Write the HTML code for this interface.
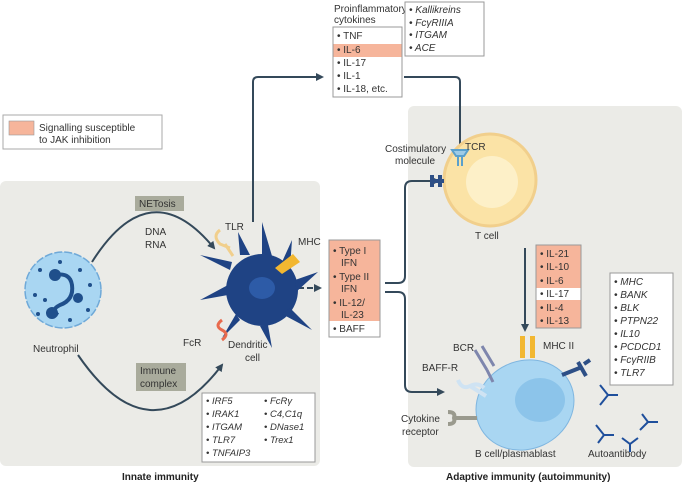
<!DOCTYPE html>
<html><head><meta charset="utf-8"><style>
body{margin:0;background:#fff}
svg{display:block;font-family:"Liberation Sans",sans-serif}
</style></head><body>
<svg width="682" height="487" viewBox="0 0 682 487" xmlns="http://www.w3.org/2000/svg">
<defs>
<marker id="ah" markerWidth="8" markerHeight="8" refX="6" refY="4" orient="auto" markerUnits="userSpaceOnUse"><path d="M0,0 L8,4 L0,8 Z" fill="#34495a"/></marker>
</defs>
<rect x="0" y="181" width="320" height="285" rx="6" fill="#ebebe7"/>
<rect x="408" y="106" width="274" height="361" rx="6" fill="#ebebe7"/>

<rect x="3" y="115" width="159" height="34" fill="#fff" stroke="#aaa"/>
<rect x="9" y="121" width="25" height="14" fill="#f6b59b" stroke="#999" stroke-width="0.6"/>
<text x="39" y="131" font-size="10" fill="#333">Signalling susceptible</text>
<text x="39" y="143" font-size="10" fill="#333">to JAK inhibition</text>

<text x="334" y="12" font-size="10" fill="#333">Proinflammatory</text>
<text x="334" y="23" font-size="10" fill="#333">cytokines</text>
<rect x="333" y="27" width="69" height="70" fill="#fff" stroke="#999"/>
<rect x="333.5" y="44" width="68" height="13" fill="#f6b59b"/>
<g font-size="10" fill="#333">
<text x="337" y="39">• TNF</text><text x="337" y="53">• IL-6</text><text x="337" y="66">• IL-17</text><text x="337" y="79">• IL-1</text><text x="337" y="92">• IL-18, etc.</text>
</g>
<rect x="405" y="2" width="79" height="54" fill="#fff" stroke="#999"/>
<g font-size="10" fill="#333" font-style="italic">
<text x="409" y="13">• Kallikreins</text><text x="409" y="26">• FcγRIIIA</text><text x="409" y="38">• ITGAM</text><text x="409" y="51">• ACE</text>
</g>

<g fill="none" stroke="#34495a" stroke-width="2">
<path d="M253,222 V82 Q253,77 258,77 H322" marker-end="url(#ah)"/>
<path d="M460,150 V82 Q460,77 455,77 H404"/>
<path d="M298,288 H320" stroke-dasharray="6,3" marker-end="url(#ah)"/>
<path d="M385,283 H398 Q405,283 405,276 V188 Q405,181 412,181 H438" marker-end="url(#ah)"/>
<path d="M385,292 H398 Q405,292 405,299 V385 Q405,392 412,392 H443" marker-end="url(#ah)"/>
<path d="M525,248 V330" marker-end="url(#ah)"/>
<path d="M92,262 Q150,170 214,248" marker-end="url(#ah)"/>
<path d="M78,355 Q150,460 222,365" marker-end="url(#ah)"/>
</g>

<circle cx="63" cy="290" r="38" fill="#a9d6f2" stroke="#6fa9d8" stroke-width="1.5" stroke-dasharray="8,2"/>
<path d="M55,275 Q70,272 72,285 Q74,300 60,305 Q50,310 58,315" fill="none" stroke="#1f4f8b" stroke-width="4"/>
<circle cx="55" cy="275" r="6" fill="#1f4f8b"/><circle cx="78" cy="298" r="5" fill="#1f4f8b"/><circle cx="52" cy="313" r="6" fill="#1f4f8b"/>
<g fill="#1f4f8b"><circle cx="40" cy="270" r="2"/><circle cx="80" cy="270" r="2"/><circle cx="35" cy="295" r="2"/><circle cx="90" cy="285" r="2"/><circle cx="45" cy="300" r="2"/><circle cx="70" cy="320" r="2"/><circle cx="38" cy="314" r="2"/><circle cx="88" cy="310" r="2"/><circle cx="60" cy="262" r="2"/></g>
<text x="33" y="352" font-size="10" fill="#333">Neutrophil</text>
<rect x="135" y="196" width="49" height="15" fill="#a9ab9c"/>
<text x="139" y="207" font-size="10" fill="#333">NETosis</text>
<text x="145" y="235" font-size="10" fill="#333">DNA</text>
<text x="145" y="248" font-size="10" fill="#333">RNA</text>
<rect x="136" y="363" width="50" height="28" fill="#a9ab9c"/>
<text x="140" y="374" font-size="10" fill="#333">Immune</text>
<text x="140" y="387" font-size="10" fill="#333">complex</text>

<g fill="#1f4384">
<circle cx="262" cy="290" r="36"/>
<path d="M230,270 L200,255 L232,262Z M240,255 L238,232 L250,255Z M262,254 L262,222 L272,256Z M282,262 L292,240 L290,268Z M295,280 L318,272 L296,292Z M290,308 L312,330 L282,314Z M268,325 L272,348 L260,326Z M240,320 L222,338 L236,314Z M228,295 L200,300 L228,285Z"/>
</g>
<ellipse cx="262" cy="288" rx="13" ry="11" fill="#2d5ba7"/>
<path d="M220,230 q-8,6 0,14 l10,4 M225,244 l8,12" fill="none" stroke="#f1cf8c" stroke-width="3"/>
<path d="M275,268 l18,-14 l7,8 l-18,12z" fill="#f2b731"/>
<path d="M222,340 q8,-6 0,-10 q-8,-4 0,-10" fill="none" stroke="#e86a4d" stroke-width="3"/>
<text x="225" y="230" font-size="10" fill="#333">TLR</text>
<text x="298" y="245" font-size="10" fill="#333">MHC</text>
<text x="183" y="346" font-size="10" fill="#333">FcR</text>
<text x="228" y="348" font-size="10" fill="#333">Dendritic</text>
<text x="245" y="361" font-size="10" fill="#333">cell</text>

<rect x="202" y="393" width="113" height="69" fill="#fff" stroke="#999"/>
<g font-size="9.5" fill="#333" font-style="italic">
<text x="206" y="404">• IRF5</text><text x="206" y="417">• IRAK1</text><text x="206" y="430">• ITGAM</text><text x="206" y="443">• TLR7</text><text x="206" y="456">• TNFAIP3</text>
<text x="264" y="404">• FcRγ</text><text x="264" y="417">• C4,C1q</text><text x="264" y="430">• DNase1</text><text x="264" y="443">• Trex1</text>
</g>

<rect x="329" y="240" width="51" height="97" fill="#f6b59b" stroke="#999"/>
<rect x="329.5" y="321" width="50" height="15.5" fill="#fff"/>
<g font-size="10" fill="#333">
<text x="333" y="254">• Type I</text><text x="341" y="266">IFN</text><text x="333" y="280">• Type II</text><text x="341" y="292">IFN</text><text x="333" y="306">• IL-12/</text><text x="341" y="318">IL-23</text><text x="333" y="332">• BAFF</text>
</g>

<circle cx="490" cy="180" r="46" fill="#fbe3a6" stroke="#f1cf8c" stroke-width="3"/>
<circle cx="492" cy="182" r="26" fill="#fdf0c8"/>
<path d="M452,150 h16 l-4,6 h-8z M458,156 v10 M462,156 v10" fill="#9ecbe6" stroke="#5aa0cc" stroke-width="2"/>
<text x="465" y="150" font-size="10" fill="#333">TCR</text>
<path d="M432,175 v12 M432,181 h12 M440,175 v12" stroke="#2d4f86" stroke-width="4" fill="none"/>
<text x="385" y="152" font-size="10" fill="#333">Costimulatory</text>
<text x="395" y="164" font-size="10" fill="#333">molecule</text>
<text x="475" y="239" font-size="10" fill="#333">T cell</text>

<rect x="536" y="245" width="45" height="83" fill="#f6b59b" stroke="#999"/>
<rect x="536.5" y="288" width="44" height="12" fill="#fff"/>
<g font-size="10" fill="#333">
<text x="540" y="257">• IL-21</text><text x="540" y="270">• IL-10</text><text x="540" y="284">• IL-6</text><text x="540" y="297">• IL-17</text><text x="540" y="311">• IL-4</text><text x="540" y="324">• IL-13</text>
</g>
<rect x="610" y="273" width="63" height="112" fill="#fff" stroke="#999"/>
<g font-size="10" fill="#333" font-style="italic">
<text x="614" y="285">• MHC</text><text x="614" y="298">• BANK</text><text x="614" y="311">• BLK</text><text x="614" y="324">• PTPN22</text><text x="614" y="337">• IL10</text><text x="614" y="350">• PCDCD1</text><text x="614" y="363">• FcγRIIB</text><text x="614" y="376">• TLR7</text>
</g>

<ellipse cx="525" cy="405" rx="50" ry="44" transform="rotate(-25 525 405)" fill="#a9d6f2" stroke="#7fb6e0"/>
<ellipse cx="540" cy="400" rx="25" ry="22" fill="#8cc4ea"/>
<rect x="520" y="336" width="5" height="22" fill="#f2b731"/><rect x="530" y="336" width="5" height="22" fill="#f2b731"/>
<path d="M475,350 l12,20 M482,346 l12,20 M487,370 l6,12" stroke="#7e86ad" stroke-width="3" fill="none"/>
<path d="M458,380 q4,10 12,6 q8,-4 14,2 M470,386 l16,10" stroke="#cfe3f3" stroke-width="4" fill="none"/>
<path d="M455,418 h22 M448,412 q8,0 6,6 q2,6 -6,6" stroke="#9a9a8e" stroke-width="4" fill="none"/>
<path d="M562,375 l20,-8 M578,362 l8,14 M584,364 l6,-4" stroke="#2d4f86" stroke-width="4" fill="none"/>
<text x="453" y="351" font-size="10" fill="#333">BCR</text>
<text x="543" y="349" font-size="10" fill="#333">MHC II</text>
<text x="422" y="371" font-size="10" fill="#333">BAFF-R</text>
<text x="401" y="422" font-size="10" fill="#333">Cytokine</text>
<text x="402" y="435" font-size="10" fill="#333">receptor</text>
<text x="475" y="457" font-size="10" fill="#333">B cell/plasmablast</text>
<text x="588" y="457" font-size="10" fill="#333">Autoantibody</text>
<g stroke="#1f4f9c" stroke-width="2" fill="none">
<path d="M600,385 l8,10 l-8,10 M608,395 h10"/>
<path d="M596,425 l8,10 l-6,8 M604,435 h10"/>
<path d="M622,438 l8,6 l8,-6 M630,444 v8"/>
<path d="M640,430 l8,-8 l-6,-8 M648,422 h10"/>
</g>

<text x="122" y="480" font-size="10" font-weight="bold" fill="#222">Innate immunity</text>
<text x="446" y="480" font-size="10" font-weight="bold" fill="#222">Adaptive immunity (autoimmunity)</text>
</svg>
</body></html>
